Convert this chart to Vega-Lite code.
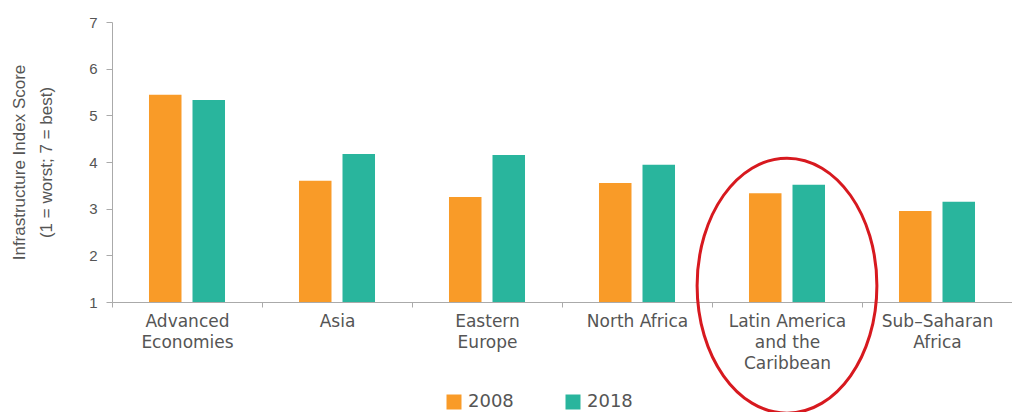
{
  "$schema": "https://vega.github.io/schema/vega-lite/v6.json",
  "width": 900,
  "height": 280,
  "autosize": {"type": "none"},
  "padding": {"left": 112, "top": 22, "right": 0, "bottom": 110},
  "background": "white",
  "config": {"view": {"stroke": null}},
  "datasets": {
    "bars": [
      {"region": "Advanced Economies", "year": "2008", "score": 5.44},
      {"region": "Advanced Economies", "year": "2018", "score": 5.33},
      {"region": "Asia", "year": "2008", "score": 3.6},
      {"region": "Asia", "year": "2018", "score": 4.17},
      {"region": "Eastern Europe", "year": "2008", "score": 3.25},
      {"region": "Eastern Europe", "year": "2018", "score": 4.15},
      {"region": "North Africa", "year": "2008", "score": 3.55},
      {"region": "North Africa", "year": "2018", "score": 3.94},
      {"region": "Latin America and the Caribbean", "year": "2008", "score": 3.33},
      {"region": "Latin America and the Caribbean", "year": "2018", "score": 3.51},
      {"region": "Sub–Saharan Africa", "year": "2008", "score": 2.95},
      {"region": "Sub–Saharan Africa", "year": "2018", "score": 3.15}
    ],
    "ring": [
      {"region": "Latin America and the Caribbean", "score": 1.35}
    ]
  },
  "layer": [
    {
      "data": {"name": "bars"},
      "mark": {"type": "bar"},
      "encoding": {
        "x": {
          "field": "region",
          "type": "nominal",
          "sort": ["Advanced Economies", "Asia", "Eastern Europe", "North Africa", "Latin America and the Caribbean", "Sub–Saharan Africa"],
          "scale": {"paddingInner": 0, "paddingOuter": 0},
          "axis": {
            "title": null,
            "labelAngle": 0,
            "tickBand": "extent",
            "domainColor": "#aaaaaa",
            "tickColor": "#aaaaaa",
            "tickSize": 5,
            "labelPadding": 6,
            "labelFont": "DejaVu Sans",
            "labelFontSize": 17,
            "labelLineHeight": 21,
            "labelColor": "#555555",
            "labelBaseline": "top",
            "labelExpr": "datum.value == 'Advanced Economies' ? ['Advanced','Economies'] : datum.value == 'Eastern Europe' ? ['Eastern','Europe'] : datum.value == 'Latin America and the Caribbean' ? ['Latin America','and the','Caribbean'] : datum.value == 'Sub–Saharan Africa' ? ['Sub–Saharan','Africa'] : datum.label"
          }
        },
        "xOffset": {
          "field": "year",
          "type": "nominal",
          "scale": {"paddingInner": 0.253, "paddingOuter": 0.85}
        },
        "y": {
          "field": "score",
          "type": "quantitative",
          "scale": {"domain": [1, 7], "zero": false, "nice": false},
          "axis": {
            "values": [1, 2, 3, 4, 5, 6, 7],
            "grid": false,
            "domainColor": "#aaaaaa",
            "tickColor": "#aaaaaa",
            "tickSize": 6,
            "labelPadding": 9,
            "labelFont": "Liberation Sans",
            "labelFontSize": 15,
            "labelColor": "#555555",
            "title": ["Infrastructure Index Score", "(1 = worst; 7 = best)"],
            "titleFont": "Liberation Sans",
            "titleFontSize": 17,
            "titleFontWeight": "normal",
            "titleColor": "#555555",
            "titleLineHeight": 27,
            "titlePadding": 33
          }
        },
        "y2": {"datum": 1},
        "color": {
          "field": "year",
          "type": "nominal",
          "scale": {"domain": ["2008", "2018"], "range": ["#F99B28", "#29B59D"]},
          "legend": {
            "title": null,
            "orient": "none",
            "legendX": 333,
            "legendY": 371,
            "direction": "horizontal",
            "symbolType": "square",
            "symbolSize": 225,
            "symbolStrokeWidth": 0,
            "labelFont": "DejaVu Sans",
            "labelFontSize": 18,
            "labelColor": "#555555",
            "labelOffset": 5,
            "columnPadding": 50
          }
        }
      }
    },
    {
      "data": {"name": "ring"},
      "mark": {
        "type": "point",
        "shape": "M 0.705 0 C 0.705 0.5523 0.3894 1 0 1 C -0.3894 1 -0.705 0.5523 -0.705 0 C -0.705 -0.5523 -0.3894 -1 0 -1 C 0.3894 -1 0.705 -0.5523 0.705 0 Z",
        "size": 65025,
        "filled": false,
        "stroke": "#D7191F",
        "strokeWidth": 3,
        "opacity": 1
      },
      "encoding": {
        "x": {
          "field": "region",
          "type": "nominal",
          "sort": ["Advanced Economies", "Asia", "Eastern Europe", "North Africa", "Latin America and the Caribbean", "Sub–Saharan Africa"]
        },
        "y": {"field": "score", "type": "quantitative"}
      }
    }
  ]
}
